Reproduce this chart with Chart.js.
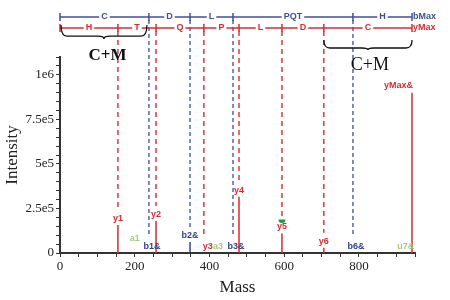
<!DOCTYPE html>
<html>
<head>
<meta charset="utf-8">
<script src="https://cdn.jsdelivr.net/npm/chart.js@4/dist/chart.umd.min.js"></script>
<style>
  html, body { margin: 0; padding: 0; background: #fff; }
  #wrap { width: 450px; height: 300px; }
</style>
</head>
<body>
<div id="wrap"><canvas id="spectrum" width="450" height="300"></canvas></div>
<script>
// Fragment ions (mass, intensity).
var yIonLabels = ['y1', 'y2', 'y3', 'y4', 'y5', 'y6'];
var yIonMass = [155, 257, 385, 479, 594, 706];
var yIonIntensity = [157000, 180000, 0, 315000, 110000, 30000];

var bIonLabels = ['b1&', 'b2&', 'b3&', 'b6&'];
var bIonMass = [238, 348, 463, 784];
var bIonIntensity = [0, 62000, 0, 0];

var otherIonLabels = ['a1', 'a3', 'u7&'];
var otherIonMass = [200, 423, 925];

var precursorLabel = 'yMax&';
var precursorMass = 942;
var precursorIntensity = 900000;

// Sequence coverage.
var bSequence = ['C', 'D', 'L', 'PQT', 'H'];
var ySequence = ['H', 'T', 'Q', 'P', 'L', 'D', 'C'];

// Axis ticks.
var xTickLabels = [0, 200, 400, 600, 800];
var yTickValues = [0, 250000, 500000, 750000, 1000000];
var yTickLabels = ['0', '2.5e5', '5e5', '7.5e5', '1e6'];

var RED = '#e3262c';
var BLUE = '#34418f';
var GREEN = '#aac77a';

/**
 * Build stick segments for the line dataset.
 */
function sticks(masses, intensities) {
  var pts = [];
  masses.forEach(function (m, i) {
    if (intensities[i] > 0) {
      pts.push({x: m, y: 0}, {x: m, y: intensities[i]}, {x: m, y: null});
    }
  });
  return pts;
}

function brace(ctx, x1, x2, yTop, depth) {
  var mid = (x1 + x2) / 2;
  var yb = yTop + depth * 0.8;
  var r = 6;
  ctx.beginPath();
  ctx.moveTo(x1, yTop);
  ctx.quadraticCurveTo(x1, yb, x1 + r, yb);
  ctx.lineTo(mid - r, yb);
  ctx.quadraticCurveTo(mid, yb, mid, yTop + depth);
  ctx.quadraticCurveTo(mid, yb, mid + r, yb);
  ctx.lineTo(x2 - r, yb);
  ctx.quadraticCurveTo(x2, yb, x2, yTop);
  ctx.stroke();
}

var annotations = {
  id: 'annotations',
  afterDraw: function (chart) {
    var ctx = chart.ctx;
    var xs = chart.scales.x;
    var ys = chart.scales.y;
    var px = function (m) { return xs.getPixelForValue(m); };
    var py = function (v) { return ys.getPixelForValue(v); };
    var bottom = py(0);
    var bY = 17, yY = 28;

    ctx.save();
    ctx.font = 'bold 9px "Liberation Sans", sans-serif';
    ctx.textAlign = 'center';

    // Dashed y-ion lines.
    ctx.setLineDash([5, 4]);
    ctx.lineWidth = 1.4;
    ctx.strokeStyle = RED;
    yIonMass.forEach(function (m, i) {
      var top = Math.min(py(yIonIntensity[i]), bottom - 2);
      ctx.beginPath();
      ctx.moveTo(px(m), yY + 3);
      ctx.lineTo(px(m), top - 15);
      ctx.stroke();
    });
    // Dashed b-ion lines.
    ctx.strokeStyle = '#4b5a9e';
    ctx.setLineDash([4, 3]);
    bIonMass.forEach(function (m, i) {
      var top = Math.min(py(bIonIntensity[i]), bottom - 2);
      ctx.beginPath();
      ctx.moveTo(px(m), bY + 3);
      ctx.lineTo(px(m), top - 15);
      ctx.stroke();
    });
    ctx.setLineDash([]);

    // Ion labels.
    ctx.textBaseline = 'alphabetic';
    ctx.fillStyle = RED;
    yIonLabels.forEach(function (t, i) {
      var top = Math.min(py(yIonIntensity[i]), bottom + 1);
      ctx.fillText(t, px(yIonMass[i]) + (yIonIntensity[i] > 0 ? 0 : 4), top - 4);
    });
    ctx.fillStyle = BLUE;
    bIonLabels.forEach(function (t, i) {
      var top = Math.min(py(bIonIntensity[i]), bottom + 1);
      ctx.fillText(t, px(bIonMass[i]) + (bIonIntensity[i] > 0 ? 0 : 3), top - 4);
    });
    ctx.fillStyle = GREEN;
    otherIonLabels.forEach(function (t, i) {
      var off = i === 0 ? -8 : 0;
      ctx.fillText(t, px(otherIonMass[i]), bottom - 4 + off);
    });
    ctx.fillStyle = RED;
    ctx.textAlign = 'right';
    ctx.fillText(precursorLabel, px(precursorMass) + 1, py(precursorIntensity) - 5);

    // Precursor marker on y5.
    ctx.fillStyle = '#1f9a3c';
    ctx.beginPath();
    ctx.arc(px(yIonMass[4]), py(yIonIntensity[4]) - 14, 3.5, 0, Math.PI);
    ctx.fill();

    // Sequence header lines.
    function header(y, masses, letters, color, tail) {
      var edges = [0].concat(masses, [precursorMass]);
      ctx.strokeStyle = color;
      ctx.lineWidth = 1.5;
      ctx.beginPath();
      ctx.moveTo(px(0), y);
      ctx.lineTo(px(precursorMass), y);
      ctx.stroke();
      edges.forEach(function (m) {
        ctx.beginPath();
        ctx.moveTo(px(m), y - 4);
        ctx.lineTo(px(m), y + 4);
        ctx.stroke();
      });
      ctx.textAlign = 'center';
      ctx.textBaseline = 'middle';
      letters.forEach(function (t, i) {
        var cx = (px(edges[i]) + px(edges[i + 1])) / 2;
        var w = ctx.measureText(t).width + 4;
        ctx.fillStyle = '#fff';
        ctx.fillRect(cx - w / 2, y - 4, w, 8);
        ctx.fillStyle = color;
        ctx.fillText(t, cx, y);
      });
      ctx.textAlign = 'left';
      ctx.fillText(tail, px(precursorMass) + 1, y);
    }
    header(bY, bIonMass.slice(0, 2).concat([bIonMass[2], bIonMass[3]]), bSequence, '#3f4f9e', 'bMax');
    header(yY, yIonMass, ySequence, RED, 'yMax');

    // Modification braces.
    ctx.strokeStyle = '#111';
    ctx.lineWidth = 1.3;
    brace(ctx, px(0) + 1, px(bIonMass[0]) - 2, yY - 3, 14);
    brace(ctx, px(yIonMass[5]), px(precursorMass), 40, 10);
    ctx.fillStyle = '#111';
    ctx.textAlign = 'center';
    ctx.textBaseline = 'middle';
    ctx.font = 'bold 17px "Liberation Serif", serif';
    ctx.fillText('C+M', (px(0) + px(bIonMass[0])) / 2 + 3, 56);
    ctx.font = '18px "Liberation Serif", serif';
    ctx.fillText('C+M', (px(yIonMass[5]) + px(precursorMass)) / 2 + 2, 65);
    ctx.restore();
  }
};

var tickFont = {family: '"Liberation Serif", serif', size: 13};

new Chart(document.getElementById('spectrum'), {
  type: 'line',
  data: {
    datasets: [
      {
        data: sticks(yIonMass, yIonIntensity).concat(sticks([precursorMass], [precursorIntensity])),
        borderColor: RED,
        borderWidth: 1.5,
        pointRadius: 0,
        spanGaps: false
      },
      {
        data: sticks(bIonMass, bIonIntensity),
        borderColor: BLUE,
        borderWidth: 1.5,
        pointRadius: 0,
        spanGaps: false
      }
    ]
  },
  options: {
    responsive: false,
    animation: false,
    layout: {padding: {top: 57, right: 35}},
    plugins: {legend: {display: false}, tooltip: {enabled: false}},
    scales: {
      x: {
        type: 'linear',
        min: 0,
        max: 950,
        afterFit: function (s) { s.height = 47; },
        border: {color: '#333', width: 2},
        grid: {drawOnChartArea: false, tickLength: 4, color: '#333'},
        ticks: {
          stepSize: 50,
          autoSkip: false,
          maxRotation: 0,
          color: '#222',
          font: tickFont,
          padding: 2,
          callback: function (v) { return xTickLabels.indexOf(v) >= 0 ? String(v) : ''; }
        },
        title: {display: true, text: 'Mass', color: '#222', font: {family: '"Liberation Serif", serif', size: 17}, padding: {top: 0, bottom: 2}}
      },
      y: {
        min: 0,
        max: 1100000,
        afterFit: function (s) { s.width = 60; },
        border: {color: '#333', width: 2},
        grid: {drawOnChartArea: false, tickLength: 4, color: '#333'},
        ticks: {
          stepSize: 50000,
          autoSkip: false,
          color: '#222',
          font: tickFont,
          padding: 2,
          callback: function (v) {
            var i = yTickValues.indexOf(v);
            return i >= 0 ? yTickLabels[i] : '';
          }
        },
        title: {display: true, text: 'Intensity', color: '#222', font: {family: '"Liberation Serif", serif', size: 17}, padding: {top: 2, bottom: 0}}
      }
    }
  },
  plugins: [annotations]
});
</script>
</body>
</html>
